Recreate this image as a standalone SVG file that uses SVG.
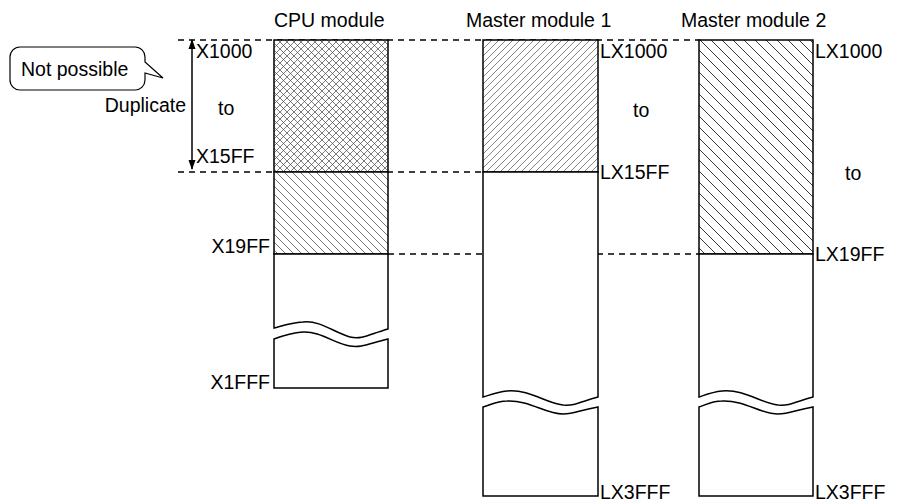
<svg xmlns="http://www.w3.org/2000/svg" width="900" height="502" viewBox="0 0 900 502">
<style>
text{font-family:"Liberation Sans",Arial,sans-serif;font-size:19.5px;fill:#000}
.box{fill:#fff;stroke:#000;stroke-width:1.5}
.dash{stroke:#000;stroke-width:1.5;stroke-dasharray:6,5;fill:none}
.ln{stroke:#000;stroke-width:1.5;fill:none}
</style>
<defs>
<pattern id="cross" patternUnits="userSpaceOnUse" width="7" height="7">
<rect width="7" height="7" fill="#fff"/>
<path d="M0,0L7,7M0,7L7,0M-1,6L1,8M6,-1L8,1M-1,1L1,-1M6,8L8,6" stroke="#444" stroke-width="0.7"/>
</pattern>
<pattern id="back9" patternUnits="userSpaceOnUse" width="8" height="8">
<rect width="8" height="8" fill="#fff"/>
<path d="M0,0L8,8M-1,7L1,9M7,-1L9,1" stroke="#555" stroke-width="0.8"/>
</pattern>
<pattern id="fwd7" patternUnits="userSpaceOnUse" width="7" height="7">
<rect width="7" height="7" fill="#fff"/>
<path d="M0,7L7,0M-1,1L1,-1M6,8L8,6" stroke="#666" stroke-width="0.8"/>
</pattern>
<pattern id="back11" patternUnits="userSpaceOnUse" width="11" height="11">
<rect width="11" height="11" fill="#fff"/>
<path d="M0,0L11,11M-1,10L1,12M10,-1L12,1" stroke="#222" stroke-width="0.9"/>
</pattern>
<marker id="ah" markerWidth="10" markerHeight="10" refX="9" refY="5" orient="auto" markerUnits="userSpaceOnUse">
<path d="M0,1.5L10,5L0,8.5z" fill="#000"/>
</marker>
</defs>

<g id="connectors">
<line class="dash" x1="178" y1="40" x2="700" y2="40"/>
<line class="dash" x1="178" y1="172" x2="483" y2="172"/>
<line class="dash" x1="388" y1="254" x2="700" y2="254"/>
<line class="ln" x1="192" y1="100" x2="192" y2="40" marker-end="url(#ah)"/>
<line class="ln" x1="192" y1="100" x2="192" y2="169" marker-end="url(#ah)"/>
</g>

<g id="callout">
<path d="M20,47H135a10,10 0 0 1 10,10V62L163,78L145,73V80a10,10 0 0 1 -10,10H20a10,10 0 0 1 -10,-10V57a10,10 0 0 1 10,-10z" fill="#fff" stroke="#000" stroke-width="1.2"/>
<text x="21" y="76">Not possible</text>
<text x="186" y="112" text-anchor="end">Duplicate</text>
</g>

<g id="cpu">
<text x="274" y="27">CPU module</text>
<rect x="274" y="40" width="114" height="132" fill="url(#cross)" stroke="#000" stroke-width="1.5"/>
<rect x="274" y="172" width="114" height="82" fill="url(#back9)" stroke="#000" stroke-width="1.5"/>
<path class="box" d="M274,254H388V329C370,334 362,340 350,337C335,333 320,320 303,322C290,323 282,326 274,328Z"/>
<path class="box" d="M274,339C282,336 290,333 303,332C320,331 335,344 350,346C362,348 370,343 388,339V388H274Z"/>
<text x="196" y="58">X1000</text>
<text x="218" y="115">to</text>
<text x="196" y="163">X15FF</text>
<text x="270" y="253" text-anchor="end">X19FF</text>
<text x="270" y="389" text-anchor="end">X1FFF</text>
</g>

<g id="master1">
<text x="466" y="27">Master module 1</text>
<rect x="483" y="40" width="115" height="132" fill="url(#fwd7)" stroke="#000" stroke-width="1.5"/>
<path class="box" d="M483,172H598V397C580,402 575,406 563,405C545,403 530,389 507,391C497,392 490,395 483,397Z"/>
<path class="box" d="M483,407C490,405 497,401 507,401C530,400 545,414 563,414C575,414 580,410 598,407V496H483Z"/>
<text x="600" y="58">LX1000</text>
<text x="633" y="117">to</text>
<text x="600" y="179">LX15FF</text>
<text x="600" y="499">LX3FFF</text>
</g>

<g id="master2">
<text x="681" y="27">Master module 2</text>
<rect x="699" y="40" width="114" height="214" fill="url(#back11)" stroke="#000" stroke-width="1.5"/>
<path class="box" d="M699,254H813V397C795,402 790,406 778,405C760,403 745,389 722,391C712,392 705,395 699,397Z"/>
<path class="box" d="M699,407C705,405 712,401 722,401C745,400 760,414 778,414C790,414 795,410 813,407V496H699Z"/>
<text x="815" y="58">LX1000</text>
<text x="845" y="180">to</text>
<text x="815" y="261">LX19FF</text>
<text x="815" y="499">LX3FFF</text>
</g>
</svg>
